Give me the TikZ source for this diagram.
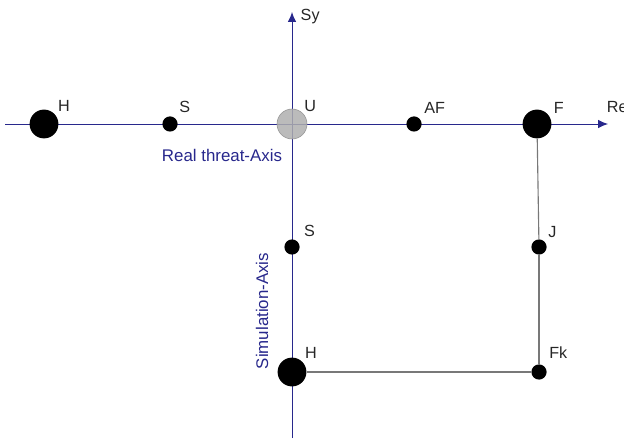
\documentclass[tikz,border=0pt]{standalone}
\usepackage{fontspec}
\setmainfont{Liberation Sans}
\usetikzlibrary{arrows.meta}
\definecolor{axisblue}{RGB}{40,40,140}
\definecolor{linegray}{RGB}{120,120,120}
\definecolor{ugray}{RGB}{175,175,175}
\begin{document}
\begin{tikzpicture}
		\tikzset{big/.style = {shape=circle,fill=black,inner sep=0pt,minimum size=0.72cm}}
		\tikzset{small/.style = {shape=circle,fill=black,inner sep=0pt,minimum size=0.38cm}}
		\tikzset{lbl/.style = {font=\fontsize{11.5}{13}\selectfont,text=black!85,inner sep=1pt}}
		\tikzset{axis/.style = {draw=axisblue,line width=0.7pt,-{Latex[length=7pt,width=6pt]}}}
		\tikzset{link/.style = {draw=linegray,line width=0.8pt}}
		\useasboundingbox (0,0) rectangle (15.6,11);
		% axes
		\coordinate (rstart) at (0.125,7.9);
		\coordinate (rend) at (15.2,7.9);
		\coordinate (sstart) at (7.3,0.05);
		\coordinate (send) at (7.3,10.7);
		\path[axis] (rstart) -- (rend);
		\path[axis] (sstart) -- (send);
		\node[lbl,anchor=base west] (re) at ([xshift=-2pt,yshift=8.5pt]rend) {Re};
		\node[lbl,anchor=west] (sy) at ([xshift=5pt,yshift=-3pt]send) {Sy};
		\node[font=\fontsize{12}{14}\selectfont,text=axisblue] (rlabel) at (5.55,7.125) {Real threat-Axis};
		\node[font=\fontsize{12}{14}\selectfont,text=axisblue,rotate=90] (slabel) at (6.55,3.225) {Simulation-Axis};
		% real threat points
		\node[big,label={[lbl,label distance=1pt]40:H}] (h1) at (1.1,7.9) {};
		\node[small,label={[lbl,label distance=3pt]50:S}] (s1) at (4.25,7.9) {};
		\node[circle,fill=ugray,draw=ugray!85!black,inner sep=0pt,minimum size=0.75cm,fill opacity=0.85,label={[lbl,label distance=0pt]45:U}] (u) at (7.3,7.9) {};
		\node[small,label={[lbl,label distance=3pt]45:AF}] (af) at (10.35,7.9) {};
		\node[big,label={[lbl,label distance=2pt]30:F}] (f) at (13.425,7.9) {};
		% simulation points
		\node[small,label={[lbl,label distance=4pt]40:S}] (s2) at (7.3,4.825) {};
		\node[big,label={[lbl,label distance=1pt]45:H}] (h2) at (7.3,1.7) {};
		\node[small,label={[lbl,label distance=2pt]45:J}] (j) at (13.475,4.825) {};
		\node[small,label={[lbl,label distance=5pt]55:Fk}] (fk) at (13.475,1.7) {};
		\path[link] (f) -- (j);
		\path[link] (j) -- (fk);
		\path[link] (h2) -- (fk);
	\end{tikzpicture}
\end{document}
